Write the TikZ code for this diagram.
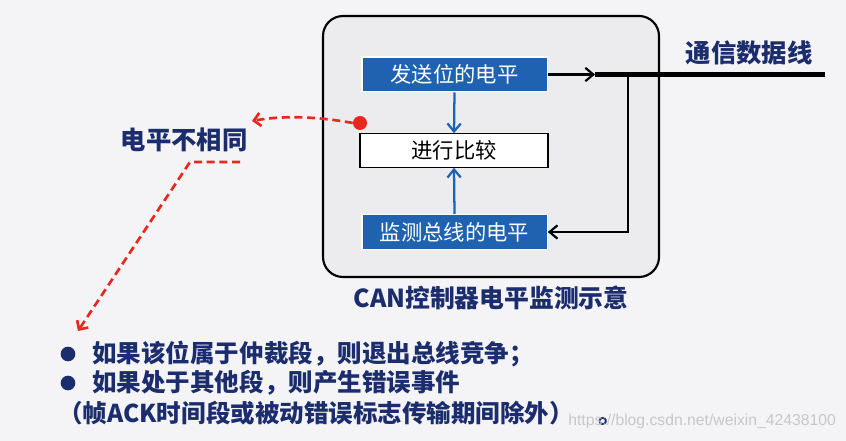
\documentclass[tikz,border=0pt]{standalone}
\usepackage{fontspec}
\setmainfont{Noto Sans CJK SC}
\newfontfamily\wmfont{Liberation Sans}
\usetikzlibrary{arrows.meta}
\definecolor{bgc}{HTML}{F4F4F6}
\definecolor{panelc}{HTML}{ECECEF}
\definecolor{boxblue}{HTML}{1E62B0}
\definecolor{navy}{HTML}{1C2D6E}
\definecolor{redc}{HTML}{E8281E}
\tikzset{
  bluebox/.style={draw=white, line width=1pt, fill=boxblue, text=white, minimum width=139pt, minimum height=26pt, inner sep=0pt, font=\fontsize{16}{18}\selectfont},
  cmpbox/.style={draw=black, line width=0.9pt, fill=white, text=black, minimum width=141pt, minimum height=25pt, inner sep=0pt, font=\fontsize{16}{18}\selectfont},
  bluearrow/.style={draw=boxblue, line width=1.7pt, -{Straight Barb[length=6pt,width=10pt,line width=1.7pt]}},
  blkarrow/.style={draw=black, line width=1.6pt, -{Straight Barb[length=6pt,width=10pt,line width=1.6pt]}},
  reddash/.style={draw=redc, line width=2pt, dash pattern=on 6pt off 3.5pt, -{Straight Barb[length=5pt,width=10pt,line width=2pt]}},
  navytitle/.style={text=navy, font=\fontsize{19}{22}\selectfont\bfseries, inner sep=0pt},
  bullettext/.style={text=navy, font=\fontsize{18.4}{22}\selectfont\bfseries, inner sep=0pt, anchor=west},
  bulletdot/.style={circle, fill=navy, minimum size=11pt, inner sep=0pt},
}
\begin{document}
\begin{tikzpicture}[x=0.75pt,y=-0.75pt]
\fill[bgc] (0,0) rectangle (846,441);
\useasboundingbox (0,0) rectangle (846,441);
% panel
\draw[line width=1.6pt, fill=panelc, rounded corners=15pt] (323,16) rectangle (659,277);
% boxes
\node[bluebox] (send) at (454.5,74.5) {发送位的电平};
\node[cmpbox] (cmp) at (454,150.5) {进行比较};
\node[bluebox] (mon) at (454.5,232) {监测总线的电平};
\draw[bluearrow] (send.south) -- (cmp.north);
\draw[bluearrow] (mon.north) -- (cmp.south);
% bus
\coordinate (busstart) at (595,74.5);
\coordinate (busend) at (825,74.5);
\coordinate (tap) at (628,74.5);
\coordinate (tapdown) at (628,232);
\draw[blkarrow] (send.east) -- (busstart);
\draw[line width=3.8pt] (busstart) -- (busend);
\draw[blkarrow] (tap) -- (tapdown) -- (mon.east);
\node[navytitle] (bus) at (749,53) {通信数据线};
% caption
\node[navytitle, font=\fontsize{18.6}{21}\selectfont\bfseries] (cap) at (491,298) {CAN控制器电平监测示意};
% red annotation
\node[circle, fill=redc, minimum size=10.5pt, inner sep=0pt] (dot) at (360,123) {};
\coordinate (diffarr) at (252,121);
\draw[reddash] (dot.west) .. controls (320,117) and (285,115) .. (diffarr);
\node[navytitle] (diff) at (184,140) {电平不相同};
\coordinate (ulR) at (240,162);
\coordinate (ulL) at (190,162);
\coordinate (tip) at (78,331);
\draw[reddash] (ulR) -- (ulL) -- (tip);
% bullets
\node[bulletdot] (d1) at (68,354) {};
\node[bulletdot] (d2) at (68,383) {};
\node[bullettext] (b1) at (92,354) {如果该位属于仲裁段，则退出总线竞争；};
\node[bullettext] (b2) at (92,383) {如果处于其他段，则产生错误事件};
\node[bullettext] (b3) at (58,413) {（帧ACK时间段或被动错误标志传输期间除外）};
\node[text=navy, font=\fontsize{18.4}{22}\selectfont\bfseries, inner sep=0pt] (stop) at (611,421) {。};
\node[text=black!22, font=\wmfont\fontsize{11.8}{13}\selectfont, anchor=west, inner sep=0pt] (wm) at (568,421) {https://blog.csdn.net/weixin\_42438100};
\end{tikzpicture}
\end{document}
